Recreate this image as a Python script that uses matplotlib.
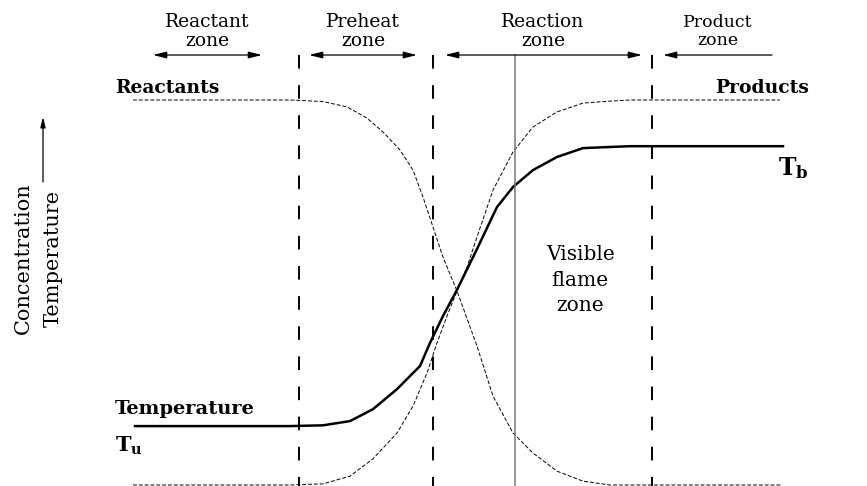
import matplotlib
matplotlib.use("Agg")
import matplotlib.pyplot as plt

plt.rcParams['font.family'] = ['DejaVu Serif']
plt.rcParams['mathtext.fontset'] = 'dejavuserif'

# distance through the flame (arbitrary units, left to right)
reactant_x = [133, 290, 323, 347, 367, 383, 400, 413, 423, 433, 443, 457, 477, 493, 513, 533, 557, 583, 610, 782]
reactant_c = [1.0, 1.0, 0.996, 0.982, 0.953, 0.917, 0.870, 0.818, 0.748, 0.670, 0.592, 0.504,
              0.361, 0.231, 0.135, 0.083, 0.036, 0.010, 0.0, 0.0]

product_x = [133, 290, 323, 350, 373, 397, 413, 427, 437, 447, 457, 467, 477, 493, 513, 533, 557, 583, 610, 630, 780]
product_c = [0.0, 0.0, 0.003, 0.023, 0.068, 0.135, 0.205, 0.291, 0.369, 0.439, 0.504, 0.566,
             0.644, 0.766, 0.865, 0.930, 0.969, 0.992, 0.997, 1.0, 1.0]

temp_x = [135, 290, 323, 350, 373, 397, 410, 420, 430, 443, 457, 477, 497, 513, 533, 557, 583, 610, 630, 783]
temp_v = [0.153, 0.153, 0.155, 0.166, 0.197, 0.249, 0.283, 0.309, 0.369, 0.439, 0.507, 0.613,
          0.722, 0.774, 0.818, 0.852, 0.875, 0.878, 0.880, 0.880]

zone_bounds = [299, 433, 652]   # dashed boundaries
flame_x = 515                   # visible flame front

def py(p):
    # pixel row -> data y
    return (485 - p) / 385.0

fig = plt.figure(figsize=(8.67, 4.86), dpi=100)
ax = fig.add_axes([0, 0, 1, 1])
ax.set_xlim(0, 867)
ax.set_ylim(py(486), py(0))
ax.axis('off')

# curves
ax.plot(reactant_x, reactant_c, color='black', lw=0.7, dashes=(4, 2))
ax.plot(product_x, product_c, color='black', lw=0.7, dashes=(4, 2))
ax.plot(temp_x, temp_v, color='black', lw=1.8, solid_joinstyle='round')

# zone boundaries
for xb in zone_bounds:
    ax.plot([xb, xb], [py(55), py(486)], color='black', lw=1.4, dashes=(7, 8.5))
ax.plot([flame_x, flame_x], [py(55), py(486)], color='#777777', lw=1.1)

# zone arrows
head = dict(color='black', lw=0.9, shrinkA=0, shrinkB=0)
for x0, x1 in [(153, 262), (309, 417), (445, 642)]:
    ax.annotate('', xy=(x1, py(55)), xytext=(x0, py(55)),
                arrowprops=dict(arrowstyle='<|-|>,head_length=0.8,head_width=0.2', **head))
ax.annotate('', xy=(663, py(55)), xytext=(772, py(55)),
            arrowprops=dict(arrowstyle='-|>,head_length=0.8,head_width=0.2', **head))

# zone labels
for label, xc, fs in [('Reactant\nzone', 207, 13.5), ('Preheat\nzone', 363, 13.5),
                      ('Reaction\nzone', 543, 13.5), ('Product\nzone', 718, 12.5)]:
    ax.text(xc, py(31.5), label, ha='center', va='center', fontsize=fs, linespacing=1.05)

# curve labels
ax.text(115, py(88), 'Reactants', ha='left', va='center', fontsize=13.5, fontweight='bold')
ax.text(809, py(88), 'Products', ha='right', va='center', fontsize=13.5, fontweight='bold')
ax.text(115, py(409), 'Temperature', ha='left', va='center', fontsize=14, fontweight='bold')
ax.text(115, py(446), r'$\mathbf{T_u}$', ha='left', va='center', fontsize=15)
ax.text(778, py(168), r'$\mathbf{T_b}$', ha='left', va='center', fontsize=17)

ax.text(580, py(280), 'Visible\nflame\nzone', ha='center', va='center', fontsize=14.5, linespacing=1.45)

# y axis label
ax.text(23, py(258), 'Concentration', rotation=90, ha='center', va='center', fontsize=15)
ax.text(53, py(258), 'Temperature', rotation=90, ha='center', va='center', fontsize=15)
ax.annotate('', xy=(43, py(117)), xytext=(43, py(182)),
            arrowprops=dict(arrowstyle='-|>,head_length=0.6,head_width=0.15', color='black', lw=0.9,
                            shrinkA=0, shrinkB=0))

fig.savefig('out.png', dpi=100)
